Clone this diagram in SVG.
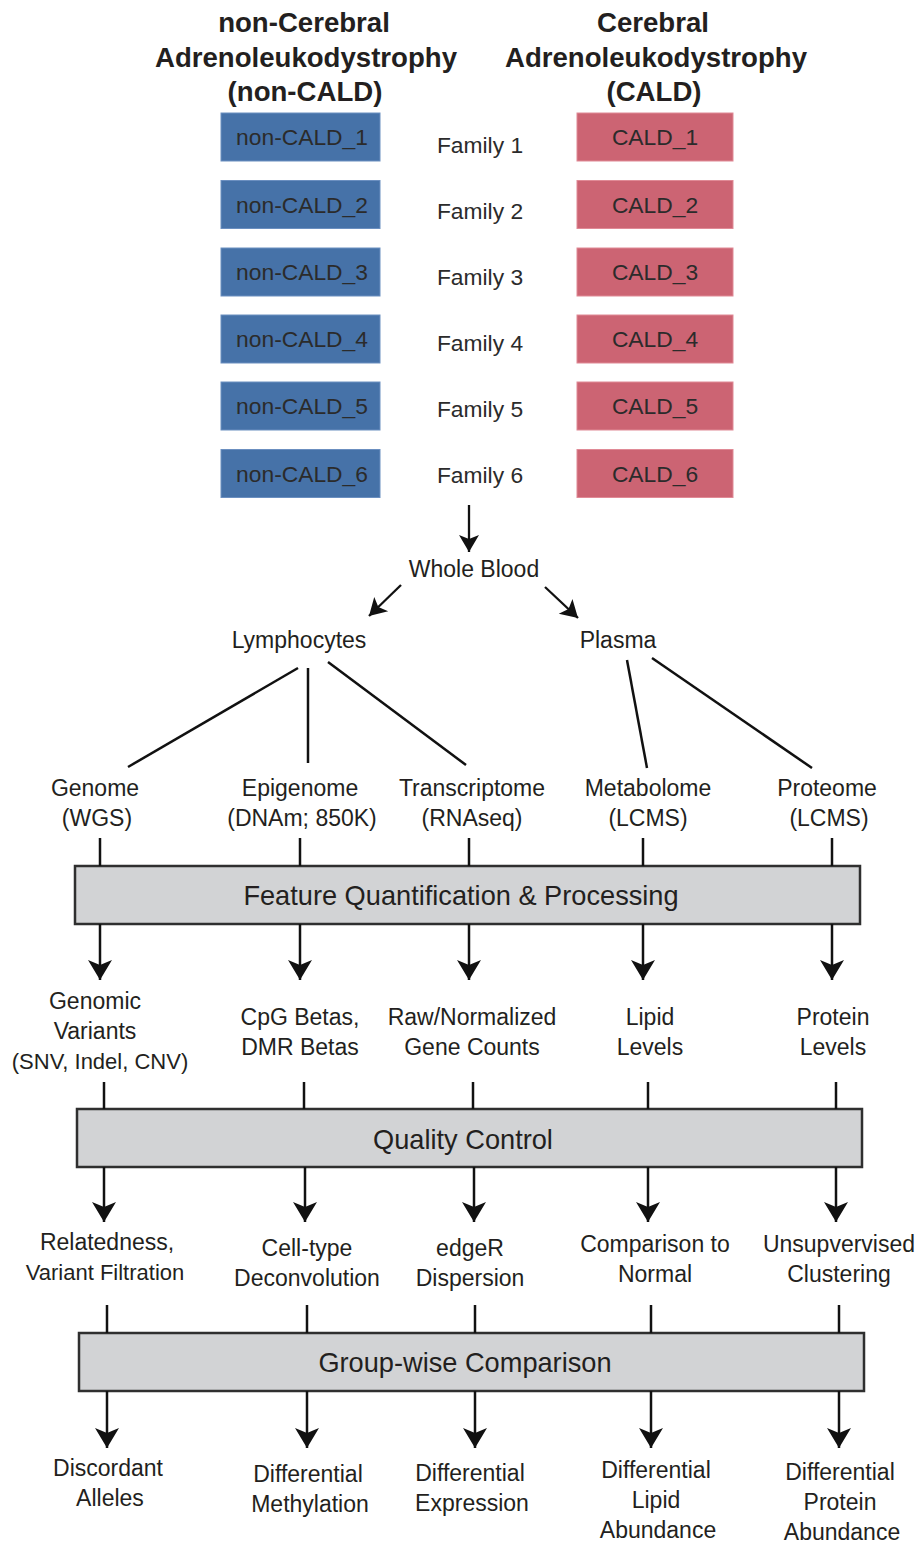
<svg xmlns="http://www.w3.org/2000/svg" width="919" height="1543" viewBox="0 0 919 1543">
<style>
text{font-family:"Liberation Sans",Arial,sans-serif;fill:#231f20;text-anchor:middle}
.h{font-weight:bold;font-size:27.6px}
.t{font-size:23px}
.s{font-size:22px}
.bx{font-size:22.8px;fill:#2b2b2b}
.big{font-size:27.2px}
.blue{fill:#4672a8;stroke:#6b8fc0;stroke-width:1}
.pink{fill:#cc6473;stroke:#e08a96;stroke-width:1}
.stage{fill:#d2d3d5;stroke:#2f2f2f;stroke-width:2.5}
.ln{stroke:#111;stroke-width:2.5;fill:none}
.ar{stroke:#111;stroke-width:2.5;fill:none;marker-end:url(#ah)}
.ar2{stroke:#111;stroke-width:2.3;fill:none;marker-end:url(#ah2)}
</style>
<defs>
<marker id="ah" markerUnits="userSpaceOnUse" markerWidth="24" markerHeight="26" refX="20" refY="12" orient="auto" viewBox="0 0 24 24" overflow="visible">
<path d="M0,0 L20,12 L0,24 L5,12 Z" fill="#111"/>
</marker>
<marker id="ah2" markerUnits="userSpaceOnUse" markerWidth="20" markerHeight="20" refX="17" refY="10" orient="auto" viewBox="0 0 20 20" overflow="visible">
<path d="M0,0 L17,10 L0,20 L4,10 Z" fill="#111"/>
</marker>
</defs>

<g id="header-noncald">
<text class="h" x="304" y="32">non-Cerebral</text>
<text class="h" x="306" y="67">Adrenoleukodystrophy</text>
<text class="h" x="305" y="101">(non-CALD)</text>
</g>
<g id="header-cald">
<text class="h" x="653" y="32">Cerebral</text>
<text class="h" x="656" y="67">Adrenoleukodystrophy</text>
<text class="h" x="654" y="101">(CALD)</text>
</g>

<g id="noncald_1"><rect class="blue" x="221" y="113" width="159" height="48"/><text class="bx" x="302" y="145">non-CALD_1</text></g>
<g id="noncald_2"><rect class="blue" x="221" y="180.5" width="159" height="48"/><text class="bx" x="302" y="212.5">non-CALD_2</text></g>
<g id="noncald_3"><rect class="blue" x="221" y="248" width="159" height="48"/><text class="bx" x="302" y="280">non-CALD_3</text></g>
<g id="noncald_4"><rect class="blue" x="221" y="315" width="159" height="48"/><text class="bx" x="302" y="347">non-CALD_4</text></g>
<g id="noncald_5"><rect class="blue" x="221" y="382" width="159" height="48"/><text class="bx" x="302" y="414">non-CALD_5</text></g>
<g id="noncald_6"><rect class="blue" x="221" y="449.5" width="159" height="48"/><text class="bx" x="302" y="481.5">non-CALD_6</text></g>

<g id="family_1"><text class="bx" x="480" y="153">Family 1</text></g>
<g id="family_2"><text class="bx" x="480" y="219">Family 2</text></g>
<g id="family_3"><text class="bx" x="480" y="285">Family 3</text></g>
<g id="family_4"><text class="bx" x="480" y="351">Family 4</text></g>
<g id="family_5"><text class="bx" x="480" y="417">Family 5</text></g>
<g id="family_6"><text class="bx" x="480" y="483">Family 6</text></g>

<g id="cald_1"><rect class="pink" x="577" y="113" width="156" height="48"/><text class="bx" x="655" y="145">CALD_1</text></g>
<g id="cald_2"><rect class="pink" x="577" y="180.5" width="156" height="48"/><text class="bx" x="655" y="212.5">CALD_2</text></g>
<g id="cald_3"><rect class="pink" x="577" y="248" width="156" height="48"/><text class="bx" x="655" y="280">CALD_3</text></g>
<g id="cald_4"><rect class="pink" x="577" y="315" width="156" height="48"/><text class="bx" x="655" y="347">CALD_4</text></g>
<g id="cald_5"><rect class="pink" x="577" y="382" width="156" height="48"/><text class="bx" x="655" y="414">CALD_5</text></g>
<g id="cald_6"><rect class="pink" x="577" y="449.5" width="156" height="48"/><text class="bx" x="655" y="481.5">CALD_6</text></g>

<g id="whole_blood"><text class="t" x="474" y="577">Whole Blood</text></g>
<g id="lymphocytes"><text class="t" x="299" y="648">Lymphocytes</text></g>
<g id="plasma"><text class="t" x="618" y="648">Plasma</text></g>

<g id="genome"><text class="t" x="95" y="796">Genome</text><text class="t" x="97" y="826">(WGS)</text></g>
<g id="epigenome"><text class="t" x="300" y="796">Epigenome</text><text class="t" x="302" y="826">(DNAm; 850K)</text></g>
<g id="transcriptome"><text class="t" x="472" y="796">Transcriptome</text><text class="t" x="472" y="826">(RNAseq)</text></g>
<g id="metabolome"><text class="t" x="648" y="796">Metabolome</text><text class="t" x="648" y="826">(LCMS)</text></g>
<g id="proteome"><text class="t" x="827" y="796">Proteome</text><text class="t" x="829" y="826">(LCMS)</text></g>

<g id="feature_quantification"><rect class="stage" x="75" y="866" width="785" height="58"/><text class="big" x="461" y="905">Feature Quantification &amp; Processing</text></g>

<g id="genomic_variants"><text class="t" x="95" y="1009">Genomic</text><text class="t" x="95" y="1039">Variants</text><text class="s" x="100" y="1069">(SNV, Indel, CNV)</text></g>
<g id="cpg_betas"><text class="t" x="300" y="1025">CpG Betas,</text><text class="t" x="300" y="1055">DMR Betas</text></g>
<g id="gene_counts"><text class="t" x="472" y="1025">Raw/Normalized</text><text class="t" x="472" y="1055">Gene Counts</text></g>
<g id="lipid_levels"><text class="t" x="650" y="1025">Lipid</text><text class="t" x="650" y="1055">Levels</text></g>
<g id="protein_levels"><text class="t" x="833" y="1025">Protein</text><text class="t" x="833" y="1055">Levels</text></g>

<g id="quality_control"><rect class="stage" x="77" y="1109" width="785" height="58"/><text class="big" x="463" y="1149">Quality Control</text></g>

<g id="relatedness"><text class="t" x="107" y="1250">Relatedness,</text><text class="s" x="105" y="1280">Variant Filtration</text></g>
<g id="celltype"><text class="t" x="307" y="1256">Cell-type</text><text class="t" x="307" y="1286">Deconvolution</text></g>
<g id="edger"><text class="t" x="470" y="1256">edgeR</text><text class="t" x="470" y="1286">Dispersion</text></g>
<g id="comparison_normal"><text class="t" x="655" y="1252">Comparison to</text><text class="t" x="655" y="1282">Normal</text></g>
<g id="clustering"><text class="t" x="839" y="1252">Unsupvervised</text><text class="t" x="839" y="1282">Clustering</text></g>

<g id="groupwise"><rect class="stage" x="79" y="1333" width="785" height="58"/><text class="big" x="465" y="1372">Group-wise Comparison</text></g>

<g id="discordant"><text class="t" x="108" y="1476">Discordant</text><text class="t" x="110" y="1506">Alleles</text></g>
<g id="diff_methylation"><text class="t" x="308" y="1482">Differential</text><text class="t" x="310" y="1512">Methylation</text></g>
<g id="diff_expression"><text class="t" x="470" y="1481">Differential</text><text class="t" x="472" y="1511">Expression</text></g>
<g id="diff_lipid"><text class="t" x="656" y="1478">Differential</text><text class="t" x="656" y="1508">Lipid</text><text class="t" x="658" y="1538">Abundance</text></g>
<g id="diff_protein"><text class="t" x="840" y="1480">Differential</text><text class="t" x="840" y="1510">Protein</text><text class="t" x="842" y="1540">Abundance</text></g>

<g id="connectors">
<line class="ar2" x1="469" y1="505" x2="469" y2="552"/>
<line class="ar2" x1="401" y1="585" x2="369" y2="616"/>
<line class="ar2" x1="545" y1="587" x2="578" y2="618"/>
<line class="ln" x1="298" y1="668" x2="128" y2="767"/>
<line class="ln" x1="308" y1="668" x2="308" y2="763"/>
<line class="ln" x1="328" y1="662" x2="466" y2="765"/>
<line class="ln" x1="627" y1="660" x2="647" y2="768"/>
<line class="ln" x1="652" y1="658" x2="812" y2="768"/>

<line class="ln" x1="100" y1="838" x2="100" y2="866"/>
<line class="ln" x1="300" y1="838" x2="300" y2="866"/>
<line class="ln" x1="469" y1="838" x2="469" y2="866"/>
<line class="ln" x1="643" y1="838" x2="643" y2="866"/>
<line class="ln" x1="832" y1="838" x2="832" y2="866"/>
<line class="ar" x1="100" y1="924" x2="100" y2="980"/>
<line class="ar" x1="300" y1="924" x2="300" y2="980"/>
<line class="ar" x1="469" y1="924" x2="469" y2="980"/>
<line class="ar" x1="643" y1="924" x2="643" y2="980"/>
<line class="ar" x1="832" y1="924" x2="832" y2="980"/>

<line class="ln" x1="104" y1="1082" x2="104" y2="1109"/>
<line class="ln" x1="304" y1="1082" x2="304" y2="1109"/>
<line class="ln" x1="473" y1="1082" x2="473" y2="1109"/>
<line class="ln" x1="648" y1="1082" x2="648" y2="1109"/>
<line class="ln" x1="836" y1="1082" x2="836" y2="1109"/>
<line class="ar" x1="104" y1="1167" x2="104" y2="1222"/>
<line class="ar" x1="305" y1="1167" x2="305" y2="1222"/>
<line class="ar" x1="474" y1="1167" x2="474" y2="1222"/>
<line class="ar" x1="648" y1="1167" x2="648" y2="1222"/>
<line class="ar" x1="836" y1="1167" x2="836" y2="1222"/>

<line class="ln" x1="107" y1="1305" x2="107" y2="1333"/>
<line class="ln" x1="307" y1="1305" x2="307" y2="1333"/>
<line class="ln" x1="475" y1="1305" x2="475" y2="1333"/>
<line class="ln" x1="651" y1="1305" x2="651" y2="1333"/>
<line class="ln" x1="839" y1="1305" x2="839" y2="1333"/>
<line class="ar" x1="107" y1="1391" x2="107" y2="1448"/>
<line class="ar" x1="307" y1="1391" x2="307" y2="1448"/>
<line class="ar" x1="475" y1="1391" x2="475" y2="1448"/>
<line class="ar" x1="651" y1="1391" x2="651" y2="1448"/>
<line class="ar" x1="839" y1="1391" x2="839" y2="1448"/>
</g>
</svg>
